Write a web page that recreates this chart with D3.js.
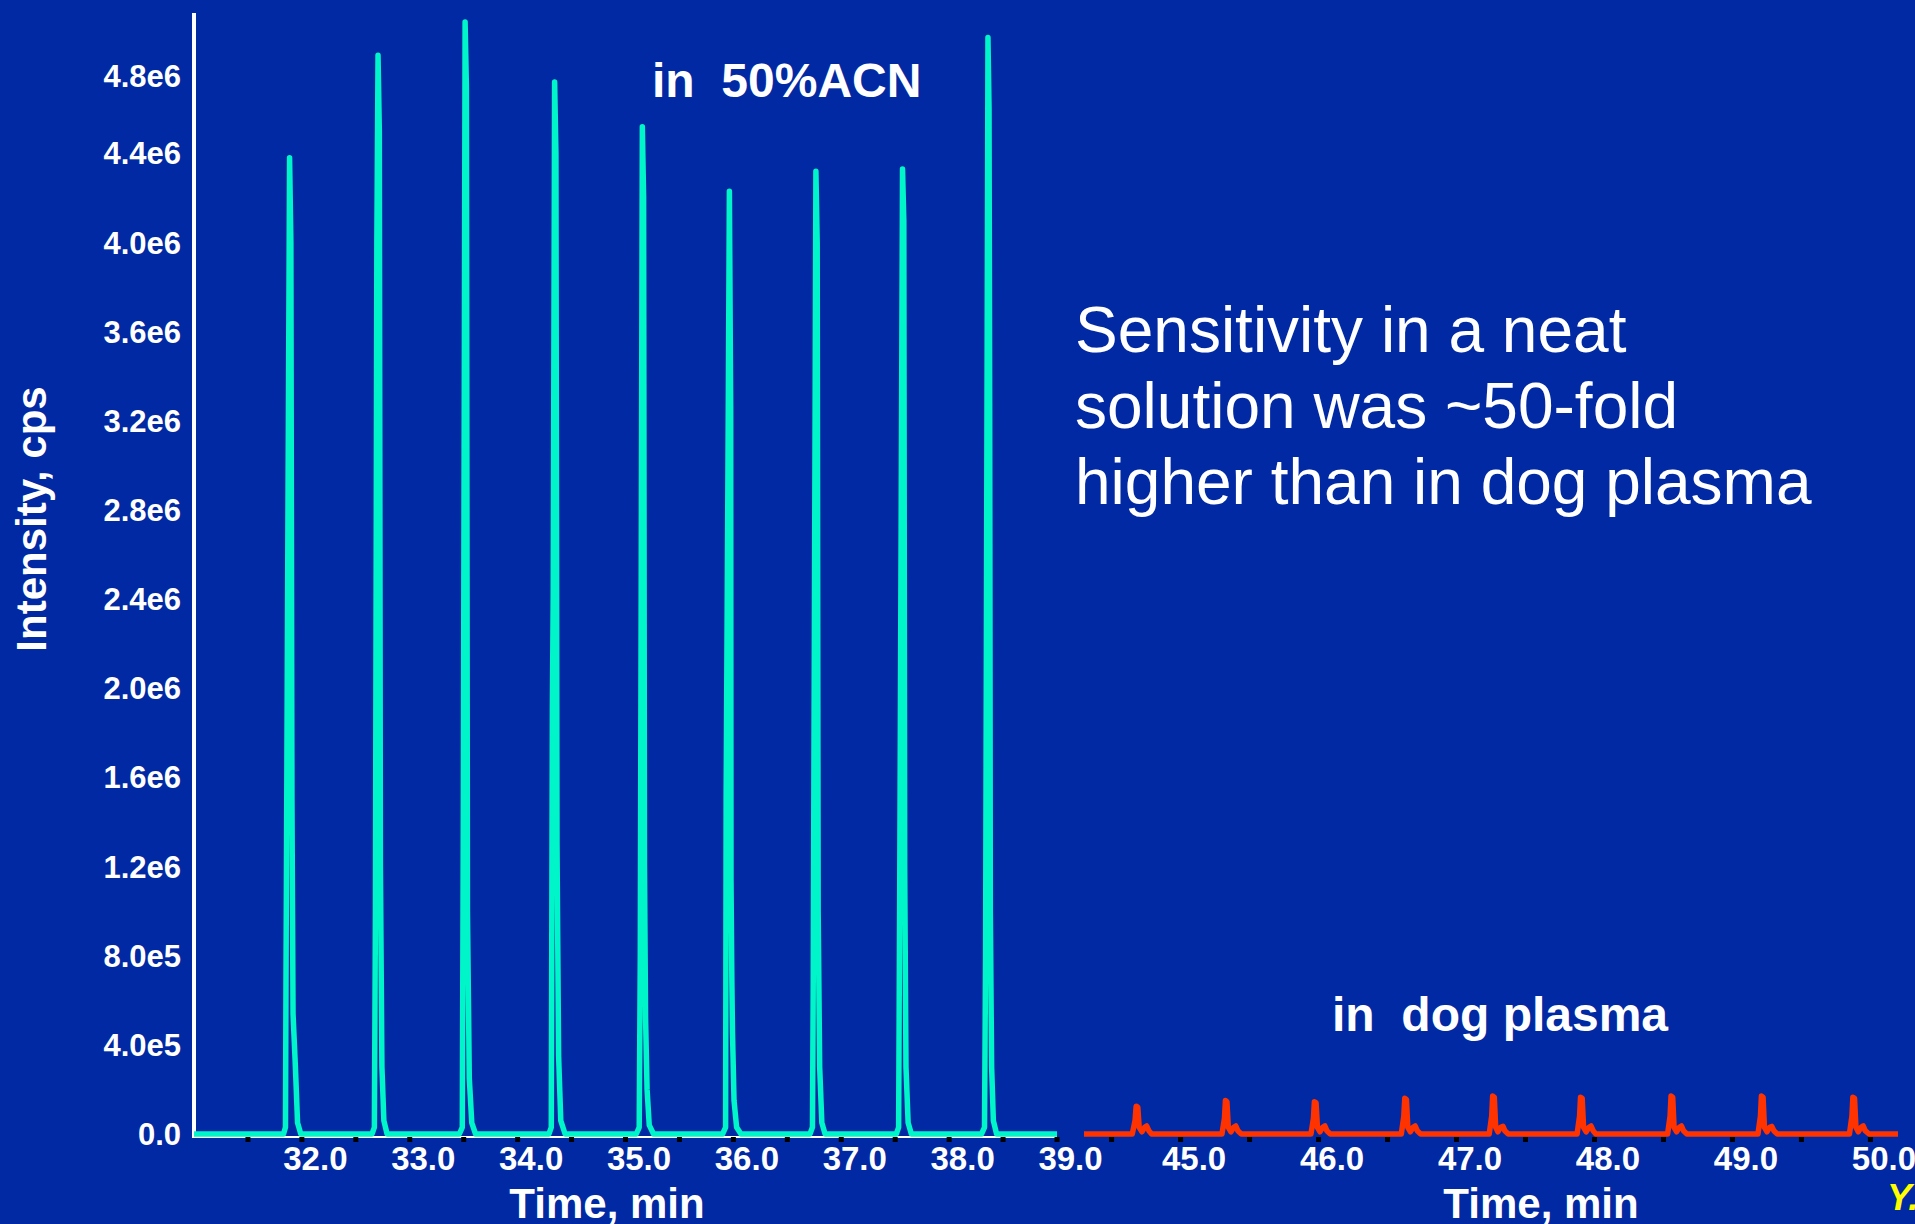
<!DOCTYPE html>
<html>
<head>
<meta charset="utf-8">
<script src="https://cdn.jsdelivr.net/npm/d3@7"></script>
<style>
  html, body { margin: 0; padding: 0; background: #0029a3; overflow: hidden; }
  text { font-family: Arial, "Liberation Sans", sans-serif; fill: #fff; }
</style>
</head>
<body>
<svg id="chart" width="1915" height="1224"></svg>
<script>
// y axis ticks (intensity, cps)
const yTicks = [0, 4e5, 8e5, 1.2e6, 1.6e6, 2.0e6, 2.4e6, 2.8e6, 3.2e6, 3.6e6, 4.0e6, 4.4e6, 4.8e6];
const yTickLabels = ['0.0', '4.0e5', '8.0e5', '1.2e6', '1.6e6', '2.0e6', '2.4e6', '2.8e6', '3.2e6', '3.6e6', '4.0e6', '4.4e6', '4.8e6'];

// x ticks, time in minutes
const xTicksLeft = [32, 33, 34, 35, 36, 37, 38, 39];
const xTicksRight = [45, 46, 47, 48, 49, 50];
const minorLeft = [31.5, 32, 32.5, 33, 33.5, 34, 34.5, 35, 35.5, 36, 36.5, 37, 37.5, 38, 38.5, 39];
const minorRight = [44.5, 45, 45.5, 46, 46.5, 47, 47.5, 48, 48.5, 49, 49.5, 50];

// peaks in 50% ACN, [time, cps]
const acnPeaks = [
  [[31.83, 0], [31.848, 0.03e6], [31.853, 0.72e6], [31.872, 2.9e6], [31.886, 4.38e6], [31.898, 4.0e6], [31.908, 1.5e6], [31.918, 0.54e6], [31.94, 0.3e6], [31.96, 0.05e6], [31.99, 0]],
  [[32.65, 0], [32.672, 0.03e6], [32.682, 1.0e6], [32.695, 4.0e6], [32.706, 4.84e6], [32.718, 4.5e6], [32.728, 1.2e6], [32.742, 0.3e6], [32.76, 0.06e6], [32.79, 0]],
  [[33.46, 0], [33.487, 0.03e6], [33.497, 1.5e6], [33.513, 4.99e6], [33.525, 4.7e6], [33.535, 1.0e6], [33.552, 0.25e6], [33.575, 0.05e6], [33.61, 0]],
  [[34.29, 0], [34.312, 0.03e6], [34.322, 1.9e6], [34.33, 2.43e6], [34.343, 4.72e6], [34.355, 4.4e6], [34.365, 1.3e6], [34.38, 0.35e6], [34.40, 0.06e6], [34.44, 0]],
  [[35.10, 0], [35.127, 0.03e6], [35.137, 0.8e6], [35.156, 4.52e6], [35.168, 4.2e6], [35.176, 1.2e6], [35.186, 0.52e6], [35.20, 0.2e6], [35.22, 0.04e6], [35.26, 0]],
  [[35.90, 0], [35.928, 0.03e6], [35.933, 1.52e6], [35.95, 3.0e6], [35.963, 4.23e6], [35.975, 3.25e6], [35.978, 1.14e6], [35.986, 0.68e6], [35.992, 0.45e6], [36.006, 0.15e6], [36.03, 0.03e6], [36.07, 0]],
  [[36.71, 0], [36.733, 0.03e6], [36.74, 0.65e6], [36.765, 4.32e6], [36.777, 4.0e6], [36.786, 1.0e6], [36.80, 0.3e6], [36.82, 0.05e6], [36.85, 0]],
  [[37.51, 0], [37.532, 0.03e6], [37.542, 1.1e6], [37.568, 4.33e6], [37.58, 4.1e6], [37.588, 1.2e6], [37.60, 0.3e6], [37.62, 0.05e6], [37.65, 0]],
  [[38.30, 0], [38.328, 0.03e6], [38.338, 0.8e6], [38.36, 4.92e6], [38.37, 4.6e6], [38.376, 3.25e6], [38.382, 1.0e6], [38.394, 0.3e6], [38.41, 0.06e6], [38.44, 0]]
];

// peaks in dog plasma, [time, cps]
const plasmaPeaks = [
  [[44.65, 0], [44.67, 0.06e6], [44.678, 0.125e6], [44.69, 0.12e6], [44.70, 0.03e6], [44.72, 0.01e6], [44.74, 0.03e6], [44.754, 0.036e6], [44.77, 0.015e6], [44.79, 0]],
  [[45.30, 0], [45.318, 0.07e6], [45.325, 0.15e6], [45.336, 0.145e6], [45.346, 0.03e6], [45.365, 0.01e6], [45.385, 0.03e6], [45.40, 0.036e6], [45.415, 0.015e6], [45.44, 0]],
  [[45.945, 0], [45.963, 0.07e6], [45.97, 0.145e6], [45.982, 0.14e6], [45.992, 0.03e6], [46.01, 0.01e6], [46.03, 0.03e6], [46.046, 0.036e6], [46.06, 0.015e6], [46.085, 0]],
  [[46.60, 0], [46.618, 0.08e6], [46.625, 0.16e6], [46.637, 0.155e6], [46.647, 0.03e6], [46.665, 0.01e6], [46.685, 0.03e6], [46.70, 0.036e6], [46.715, 0.015e6], [46.74, 0]],
  [[47.237, 0], [47.255, 0.08e6], [47.262, 0.17e6], [47.274, 0.165e6], [47.284, 0.03e6], [47.30, 0.01e6], [47.32, 0.03e6], [47.337, 0.034e6], [47.35, 0.015e6], [47.375, 0]],
  [[47.874, 0], [47.892, 0.08e6], [47.899, 0.165e6], [47.911, 0.16e6], [47.921, 0.03e6], [47.94, 0.01e6], [47.96, 0.03e6], [47.975, 0.036e6], [47.99, 0.015e6], [48.01, 0]],
  [[48.53, 0], [48.548, 0.08e6], [48.555, 0.17e6], [48.567, 0.165e6], [48.577, 0.03e6], [48.595, 0.01e6], [48.615, 0.03e6], [48.63, 0.036e6], [48.645, 0.015e6], [48.67, 0]],
  [[49.185, 0], [49.203, 0.08e6], [49.21, 0.17e6], [49.222, 0.165e6], [49.232, 0.03e6], [49.25, 0.01e6], [49.27, 0.03e6], [49.285, 0.034e6], [49.30, 0.015e6], [49.325, 0]],
  [[49.848, 0], [49.866, 0.08e6], [49.873, 0.165e6], [49.885, 0.16e6], [49.895, 0.03e6], [49.912, 0.01e6], [49.932, 0.03e6], [49.948, 0.036e6], [49.962, 0.015e6], [49.99, 0]]
];

const svg = d3.select('#chart');

svg.append('rect')
  .attr('width', 1915)
  .attr('height', 1224)
  .attr('fill', '#0029a3');

// scales
const y = d3.scaleLinear().domain([0, 5.03e6]).range([1134, 13]);
const xL = d3.scaleLinear().domain([31.0, 39.0]).range([194, 1057]);
const xR = d3.scaleLinear().domain([44.3, 50.2]).range([1084, 1898]);

// y axis
const yAxis = d3.axisLeft(y)
  .tickValues(yTicks)
  .tickFormat((d, i) => yTickLabels[i])
  .tickSize(0)
  .tickPadding(13);

const gy = svg.append('g')
  .attr('transform', `translate(${xL.range()[0]},0)`)
  .call(yAxis);
gy.select('.domain').remove();
gy.selectAll('text')
  .style('font-size', '31px')
  .style('font-weight', 'bold')
  .attr('fill', '#fff')
  .attr('dy', (d, i) => i === yTicks.length - 1 ? '0.72em' : '0.34em');

svg.append('line')
  .attr('x1', xL.range()[0]).attr('x2', xL.range()[0])
  .attr('y1', y.range()[1]).attr('y2', y(0) + 4)
  .attr('stroke', '#fff')
  .attr('stroke-width', 4);

// bottom axis line under the neat trace
svg.append('line')
  .attr('x1', xL.range()[0]).attr('x2', xL.range()[1])
  .attr('y1', y(0) + 3).attr('y2', y(0) + 3)
  .attr('stroke', '#fff')
  .attr('stroke-width', 2);

// x axes with labels shifted a bit right like the instrument software
function xAxis(scale, ticks) {
  const g = svg.append('g')
    .attr('transform', `translate(0,${y(0)})`)
    .call(d3.axisBottom(scale)
      .tickValues(ticks)
      .tickFormat(d3.format('.1f'))
      .tickSize(0)
      .tickPadding(13));
  g.select('.domain').remove();
  g.selectAll('text')
    .attr('dx', 13)
    .attr('fill', '#fff')
    .style('font-size', '33px')
    .style('font-weight', 'bold');
}
xAxis(xL, xTicksLeft);
xAxis(xR, xTicksRight);

// traces
const line = d3.line().curve(d3.curveLinear);

const acnSeries = [[31.0, 0]].concat(...acnPeaks, [[39.0, 0]]);
const plasmaSeries = [[44.3, 0]].concat(...plasmaPeaks, [[50.2, 0]]);

svg.append('path')
  .datum(acnSeries)
  .attr('fill', 'none')
  .attr('stroke', '#00f5c8')
  .attr('stroke-width', 5.5)
  .attr('stroke-linejoin', 'round')
  .attr('d', line.x(d => xL(d[0])).y(d => y(d[1])));

svg.append('path')
  .datum(plasmaSeries)
  .attr('fill', 'none')
  .attr('stroke', '#ff3300')
  .attr('stroke-width', 5.5)
  .attr('stroke-linejoin', 'round')
  .attr('d', line.x(d => xR(d[0])).y(d => y(d[1])));

// small black minor ticks below the baseline
svg.selectAll('.mtl')
  .data(minorLeft)
  .enter()
  .append('rect')
  .attr('x', d => xL(d) - 2.5)
  .attr('y', y(0) + 3)
  .attr('width', 5)
  .attr('height', 5)
  .attr('fill', '#000');

svg.selectAll('.mtr')
  .data(minorRight)
  .enter()
  .append('rect')
  .attr('x', d => xR(d) - 2.5)
  .attr('y', y(0) + 3)
  .attr('width', 5)
  .attr('height', 5)
  .attr('fill', '#000');

// axis titles
svg.append('text')
  .attr('transform', 'translate(46,519) rotate(-90)')
  .attr('text-anchor', 'middle')
  .style('font-size', '42px')
  .style('font-weight', 'bold')
  .text('Intensity, cps');

svg.append('text')
  .attr('x', 607).attr('y', 1218)
  .attr('text-anchor', 'middle')
  .style('font-size', '42px')
  .style('font-weight', 'bold')
  .text('Time, min');

svg.append('text')
  .attr('x', 1541).attr('y', 1218)
  .attr('text-anchor', 'middle')
  .style('font-size', '42px')
  .style('font-weight', 'bold')
  .text('Time, min');

// annotations
svg.append('text')
  .attr('x', 652).attr('y', 97)
  .style('font-size', '48px')
  .style('font-weight', 'bold')
  .style('white-space', 'pre')
  .text('in  50%ACN');

svg.append('text')
  .attr('x', 1332).attr('y', 1031)
  .style('font-size', '48px')
  .style('font-weight', 'bold')
  .style('white-space', 'pre')
  .text('in  dog plasma');

const noteLines = ['Sensitivity in a neat', 'solution was ~50-fold', 'higher than in dog plasma'];
svg.append('text')
  .attr('x', 1075).attr('y', 352)
  .style('font-size', '64px')
  .selectAll('tspan')
  .data(noteLines)
  .enter()
  .append('tspan')
  .attr('x', 1075)
  .attr('dy', (d, i) => i === 0 ? 0 : 76)
  .text(d => d);

svg.append('text')
  .attr('x', 1887).attr('y', 1210)
  .style('font-size', '37px')
  .style('font-weight', 'bold')
  .style('font-style', 'italic')
  .style('fill', '#ffff00')
  .text('Y.');
</script>
</body>
</html>
